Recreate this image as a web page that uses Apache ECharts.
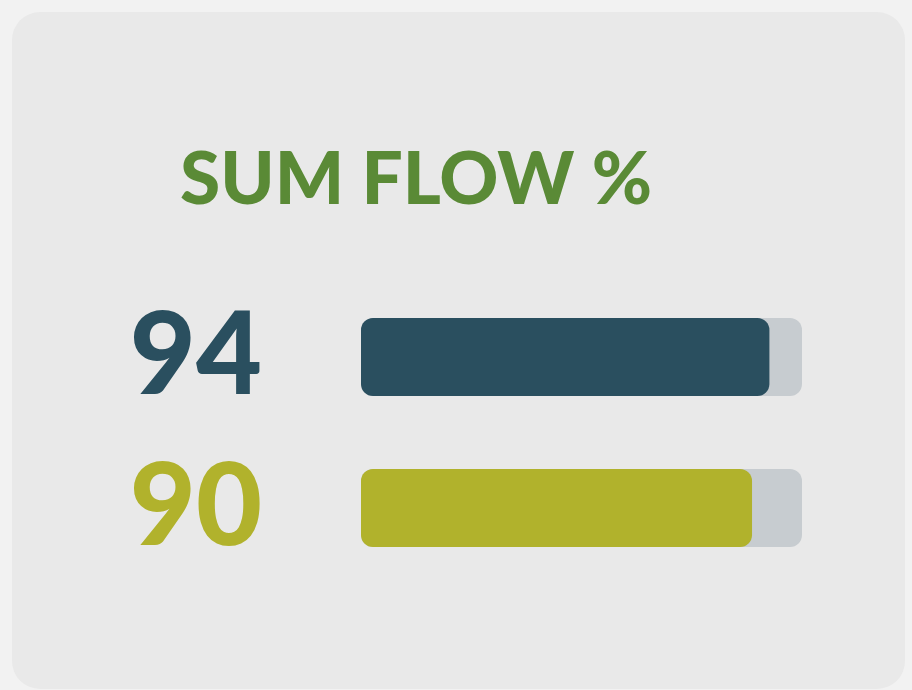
<!DOCTYPE html>
<html>
<head>
<meta charset="utf-8">
<script src="https://cdn.jsdelivr.net/npm/echarts@6/dist/echarts.min.js"></script>
<style>
html,body{margin:0;padding:0;background:#f2f2f2;}
#c{width:912px;height:690px;}
</style>
</head>
<body>
<div id="c"></div>
<script>
const titleText = 'SUM FLOW %';
const categories = ['A', 'B'];
const values = [94, 90];
const barColors = ['#2a4f5f', '#b1b22c'];

const chart = echarts.init(document.getElementById('c'), null, {renderer: 'canvas'});
chart.setOption({
  backgroundColor: '#f2f2f2',
  animation: false,
  graphic: [{
    type: 'rect', z: -10,
    shape: {x: 12, y: 12, width: 893, height: 677, r: 28},
    style: {fill: '#e9e9e9'}
  }],
  title: {
    text: titleText,
    left: 175, top: 139,
    textStyle: {fontFamily: 'Lato', fontWeight: 900, fontSize: 73, color: '#5a8a36'}
  },
  grid: {left: 361, width: 441, top: 281.5, height: 302},
  xAxis: {type: 'value', min: 0, max: 101.5, show: false},
  yAxis: {type: 'category', data: categories, inverse: true, show: false},
  series: [{
    type: 'bar',
    barWidth: 78,
    data: values.map((v, i) => ({value: v, itemStyle: {color: barColors[i]}, label: {color: barColors[i]}})),
    itemStyle: {borderRadius: 12},
    showBackground: true,
    backgroundStyle: {color: '#c7ccd0', borderRadius: 12},
    label: {
      show: true, position: 'left', distance: 99,
      formatter: '{c}',
      fontFamily: 'Lato', fontWeight: 900, fontSize: 114
    }
  }]
});
</script>
</body>
</html>
